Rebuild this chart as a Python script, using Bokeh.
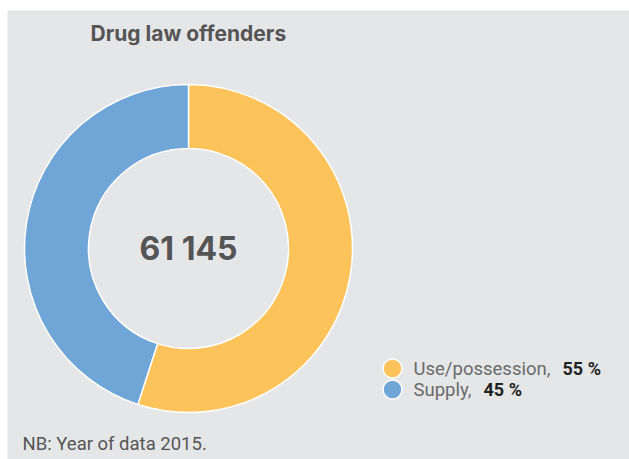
import numpy as np
from bokeh.plotting import figure
from bokeh.models import ColumnDataSource, Range1d
from bokeh.core.properties import value
from bokeh.embed import file_html
from bokeh.resources import INLINE

# ---- data ----
categories = ["Use/possession", "Supply"]
shares = [55, 45]
colors = ["#FDC35B", "#6FA5D7"]
total_label = "61 145"
title_text = "Drug law offenders"
note_text = "NB: Year of data 2015."

W, H = 622, 449
BG = "#E5E6E8"

p = figure(width=W, height=H, output_backend="svg", toolbar_location=None,
           x_range=Range1d(-1, W - 1), y_range=Range1d(444 - H, 444),
           x_axis_type=None, y_axis_type=None, min_border=0,
           background_fill_color=BG, border_fill_color=BG,
           margin=(10, 0, 0, 7))
p.outline_line_color = None
p.grid.visible = False

frac = np.array(shares, dtype=float) / sum(shares)
cum = np.concatenate([[0], np.cumsum(frac)])
start = np.pi / 2 - 2 * np.pi * cum[:-1]
end = np.pi / 2 - 2 * np.pi * cum[1:]
src = ColumnDataSource(dict(start=start, end=end, color=colors))

cx, cy = 180, 206
p.annular_wedge(x=cx, y=cy, inner_radius=100, outer_radius=164,
                start_angle="start", end_angle="end", direction="clock",
                fill_color="color", line_color="white", line_width=1.5, source=src)

# title
p.text(x=[82], y=[421], text=[title_text], text_font=value("Inter"),
       text_font_size="21px", text_font_style="bold", text_color="#555555",
       text_baseline="middle", text_align="left")
# centre total
p.text(x=[cx], y=[cy], text=[total_label], text_font=value("Inter"),
       text_font_size="32px", text_font_style="bold", text_color="#555555",
       text_baseline="middle", text_align="center")

# legend
leg_y = [86, 65]
p.scatter(x=[384, 384], y=leg_y, size=19, fill_color=colors,
          line_color="white", line_width=1.5)
p.text(x=[405, 405], y=leg_y, text=[c + "," for c in categories],
       text_font=value("Roboto"), text_font_size="18.5px", text_color="#6A6A6A",
       text_baseline="middle", text_align="left")
p.text(x=[554, 475], y=leg_y, text=[f"{s} %" for s in shares],
       text_font=value("Roboto"), text_font_size="18px", text_font_style="bold",
       text_color="#222222", text_baseline="middle", text_align="left")

# note
p.text(x=[14], y=[11], text=[note_text], text_font=value("Roboto"),
       text_font_size="18.5px", text_color="#555555",
       text_baseline="middle", text_align="left")

open("out.html", "w").write(file_html(p, INLINE))
